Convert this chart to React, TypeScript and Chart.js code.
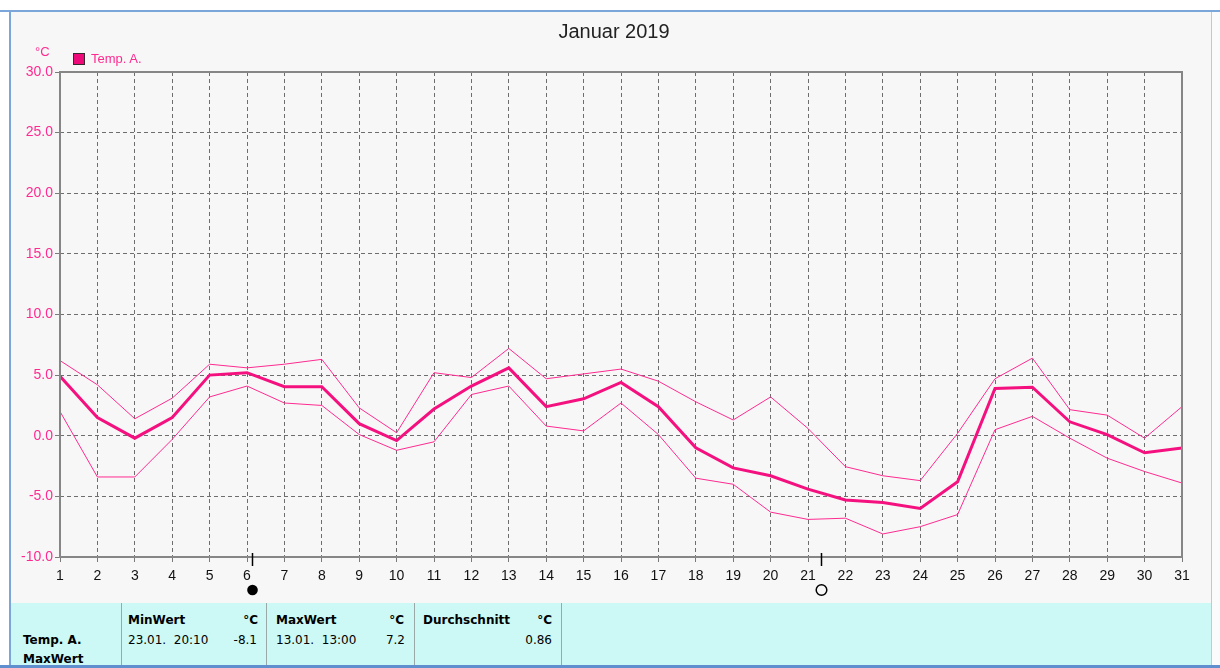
import React, { useEffect, useRef } from "react";
import { Chart, registerables } from "chart.js";

Chart.register(...registerables);

const days: number[] = [1, 2, 3, 4, 5, 6, 7, 8, 9, 10, 11, 12, 13, 14, 15, 16, 17, 18, 19, 20, 21, 22, 23, 24, 25, 26, 27, 28, 29, 30, 31];

const tempMean: number[] = [4.9, 1.5, -0.2, 1.5, 5.0, 5.2, 4.05, 4.05, 1.0, -0.4, 2.2, 4.1, 5.6, 2.4, 3.05, 4.4, 2.4, -1.0, -2.65, -3.3, -4.4, -5.3, -5.5, -6.0, -3.8, 3.9, 4.0, 1.15, 0.1, -1.4, -1.0];
const tempMax: number[] = [6.2, 4.2, 1.4, 3.1, 5.9, 5.6, 5.9, 6.3, 2.3, 0.25, 5.2, 4.8, 7.2, 4.7, 5.1, 5.5, 4.5, 2.8, 1.3, 3.2, 0.6, -2.55, -3.3, -3.7, 0.2, 4.7, 6.4, 2.15, 1.7, -0.2, 2.4];
const tempMin: number[] = [2.0, -3.4, -3.4, -0.3, 3.2, 4.1, 2.7, 2.5, 0.1, -1.2, -0.5, 3.4, 4.1, 0.8, 0.4, 2.7, 0.1, -3.5, -4.0, -6.3, -6.9, -6.8, -8.1, -7.5, -6.5, 0.5, 1.6, -0.2, -1.85, -2.95, -3.9];

const moonDays: number[] = [6.14, 21.34];
const moonFull: boolean[] = [false, true];

const yMin = -10;
const yMax = 30;
const yStep = 5;

const PINK = "#f5107f";
const PINK_THIN = "#ff2a90";

const frameAndMoonPlugin = {
  id: "frameAndMoon",
  afterDatasetsDraw(chart: any) {
    const { ctx, chartArea, scales } = chart;
    ctx.save();
    ctx.strokeStyle = "#868686";
    ctx.lineWidth = 2;
    ctx.setLineDash([]);
    ctx.strokeRect(chartArea.left, chartArea.top, chartArea.right - chartArea.left, chartArea.bottom - chartArea.top);
    moonDays.forEach((d, i) => {
      const x = Math.round(scales.x.getPixelForValue(d)) + 0.5;
      ctx.strokeStyle = "#000";
      ctx.lineWidth = 1.5;
      ctx.beginPath();
      ctx.moveTo(x, chartArea.bottom - 4);
      ctx.lineTo(x, chartArea.bottom + 9);
      ctx.stroke();
      ctx.beginPath();
      ctx.arc(x, chartArea.bottom + 33, 5.3, 0, Math.PI * 2);
      if (moonFull[i]) {
        ctx.lineWidth = 1.5;
        ctx.stroke();
      } else {
        ctx.fillStyle = "#000";
        ctx.fill();
      }
    });
    ctx.restore();
  },
};

export default function App() {
  const canvasRef = useRef<HTMLCanvasElement | null>(null);

  useEffect(() => {
    if (!canvasRef.current) return;
    const mk = (arr: number[]) => days.map((d, i) => ({ x: d, y: arr[i] }));
    const chart = new Chart(canvasRef.current, {
      type: "line",
      data: {
        datasets: [
          { label: "Max", data: mk(tempMax), borderColor: PINK_THIN, borderWidth: 1, pointRadius: 0, tension: 0, fill: false },
          { label: "Min", data: mk(tempMin), borderColor: PINK_THIN, borderWidth: 1, pointRadius: 0, tension: 0, fill: false },
          { label: "Temp. A.", data: mk(tempMean), borderColor: PINK, borderWidth: 3, pointRadius: 0, tension: 0, fill: false },
        ],
      },
      options: {
        responsive: false,
        animation: false,
        events: [],
        layout: { padding: { left: 0, top: 72, right: 38, bottom: 0 } },
        plugins: { legend: { display: false }, title: { display: false }, tooltip: { enabled: false } },
        scales: {
          x: {
            type: "linear",
            min: days[0],
            max: days[days.length - 1],
            afterFit: (s: any) => { s.height = 46; },
            ticks: {
              stepSize: 1,
              autoSkip: false,
              maxRotation: 0,
              padding: 6,
              color: "#111",
              font: { family: "Liberation Sans, Arial, sans-serif", size: 14 },
              callback: (v: any) => String(v),
            },
            grid: {
              color: "#6e6e6e",
              lineWidth: 1,
              tickLength: 5,
              tickColor: "#7a7a7a",
              tickBorderDash: [],
            },
            border: { display: false, dash: [4, 3] },
          },
          y: {
            min: yMin,
            max: yMax,
            afterFit: (s: any) => { s.width = 60; },
            ticks: {
              stepSize: yStep,
              padding: 2,
              color: PINK_THIN,
              font: { family: "Liberation Sans, Arial, sans-serif", size: 14 },
              callback: (v: any) => Number(v).toFixed(1),
            },
            grid: {
              color: "#6e6e6e",
              lineWidth: 1,
              tickLength: 5,
              tickColor: "#7a7a7a",
              tickBorderDash: [],
            },
            border: { display: false, dash: [4, 3] },
          },
        },
      },
      plugins: [frameAndMoonPlugin],
    } as any);
    return () => chart.destroy();
  }, []);

  const tf = "DejaVu Sans, Verdana, sans-serif";
  const abs = (l: number, t: number, extra: React.CSSProperties = {}): React.CSSProperties => ({
    position: "absolute", left: l, top: t, whiteSpace: "pre", lineHeight: "14px", ...extra,
  });

  return (
    <div style={{ position: "absolute", left: 0, top: 0, width: 1220, height: 668, background: "#ffffff", overflow: "hidden" }}>
      <div style={{ position: "absolute", left: 0, top: 10, width: 1220, height: 2, background: "#7aa6da" }} />
      <div style={{ position: "absolute", left: 9, top: 12, width: 2, height: 656, background: "#7aa6da" }} />
      <div style={{ position: "absolute", left: 11, top: 12, width: 1200, height: 653, background: "#f7f7f7" }} />
      <div style={{ position: "absolute", left: 1211, top: 12, width: 1, height: 653, background: "#c8c8c8" }} />
      <div style={{ position: "absolute", left: 1212, top: 12, width: 8, height: 653, background: "#fbfbfb" }} />
      <div style={{ position: "absolute", left: 0, top: 665, width: 1220, height: 3, background: "#5f8fce" }} />

      <div style={abs(0, 0, { width: 1220, height: 603 })}>
        <canvas ref={canvasRef} width={1220} height={603} style={{ position: "absolute", left: 0, top: 0, width: 1220, height: 603 }} />
      </div>

      <div style={abs(514, 20, { width: 200, textAlign: "center", fontFamily: "Liberation Sans, Arial, sans-serif", fontSize: 20, lineHeight: "22px", color: "#222" })}>Januar 2019</div>
      <div style={abs(35, 45, { fontFamily: "Liberation Sans, Arial, sans-serif", fontSize: 13, color: PINK_THIN })}>°C</div>
      <div style={{ position: "absolute", left: 73, top: 53, width: 10, height: 10, background: "#ee0a78", border: "1px solid #3a2a30" }} />
      <div style={abs(91, 52, { fontFamily: "Liberation Sans, Arial, sans-serif", fontSize: 13, color: PINK_THIN })}>Temp. A.</div>

      <div style={{ position: "absolute", left: 11, top: 603, width: 1200, height: 62, background: "#ccf9f5" }} />
      {[121, 266, 414, 561].map((x) => (
        <div key={x} style={{ position: "absolute", left: x, top: 603, width: 1, height: 62, background: "#9aa9a8" }} />
      ))}
      <div style={{ position: "absolute", left: 11, top: 603, width: 1200, height: 62, overflow: "hidden", fontFamily: tf, fontSize: 12, color: "#000" }}>
        <div style={abs(12, 30, { fontWeight: "bold" })}>Temp. A.</div>
        <div style={abs(12, 49, { fontWeight: "bold" })}>MaxWert</div>

        <div style={abs(117, 10, { fontWeight: "bold" })}>MinWert</div>
        <div style={abs(200, 10, { fontWeight: "bold", width: 47, textAlign: "right" })}>°C</div>
        <div style={abs(117, 30)}>23.01.  20:10</div>
        <div style={abs(200, 30, { width: 46, textAlign: "right" })}>-8.1</div>

        <div style={abs(265, 10, { fontWeight: "bold" })}>MaxWert</div>
        <div style={abs(340, 10, { fontWeight: "bold", width: 53, textAlign: "right" })}>°C</div>
        <div style={abs(265, 30)}>13.01.  13:00</div>
        <div style={abs(340, 30, { width: 54, textAlign: "right" })}>7.2</div>

        <div style={abs(412, 10, { fontWeight: "bold" })}>Durchschnitt</div>
        <div style={abs(490, 10, { fontWeight: "bold", width: 51, textAlign: "right" })}>°C</div>
        <div style={abs(490, 30, { width: 51, textAlign: "right" })}>0.86</div>
      </div>
    </div>
  );
}
